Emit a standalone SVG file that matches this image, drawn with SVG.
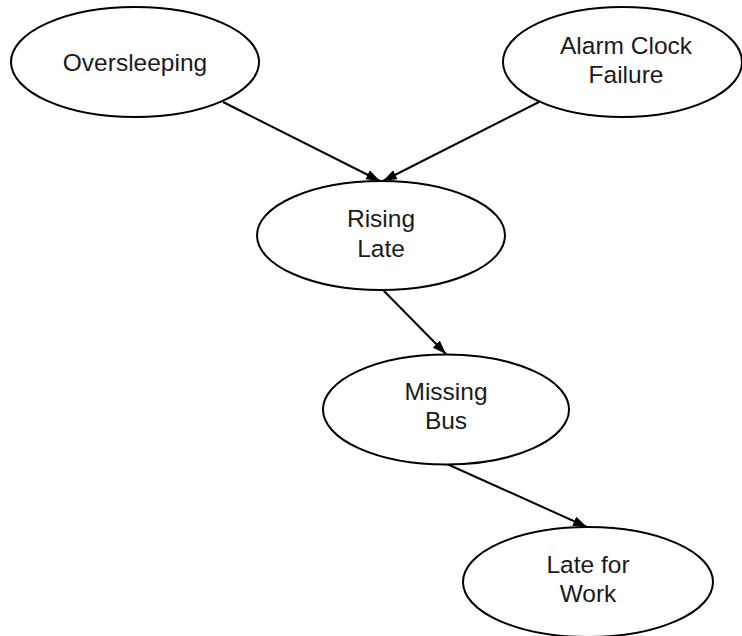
<svg xmlns="http://www.w3.org/2000/svg" width="742" height="636" viewBox="0 0 742 636">
  <style>
    .node ellipse { fill: #ffffff; stroke: #000000; stroke-width: 2; }
    .node text { font-family: "Liberation Sans", Arial, sans-serif; font-size: 24.5px; fill: #1a1a1a; text-anchor: middle; }
    .edge { stroke: #000000; stroke-width: 2; fill: none; marker-end: url(#arrow); }
  </style>
  <defs>
    <marker id="arrow" viewBox="0 0 14 10" refX="14" refY="5" markerWidth="14" markerHeight="10" markerUnits="userSpaceOnUse" orient="auto">
      <path d="M0,0 L14,5 L0,10 z" fill="#000000"/>
    </marker>
  </defs>
  <rect width="742" height="636" fill="#ffffff"/>

  <g id="connectors">
    <line class="edge" x1="223" y1="102" x2="380" y2="181"/>
    <line class="edge" x1="539" y1="102" x2="383" y2="181"/>
    <line class="edge" x1="383" y1="290" x2="446" y2="354"/>
    <line class="edge" x1="447" y1="464" x2="587" y2="527"/>
  </g>

  <g id="oversleeping" class="node">
    <ellipse cx="135" cy="62" rx="124" ry="55"/>
    <text x="135" y="71">Oversleeping</text>
  </g>

  <g id="alarm-clock-failure" class="node">
    <ellipse cx="622.5" cy="62" rx="119.5" ry="55"/>
    <text x="626" y="54">Alarm Clock</text>
    <text x="626" y="83">Failure</text>
  </g>

  <g id="rising-late" class="node">
    <ellipse cx="381" cy="235.5" rx="124" ry="54.5"/>
    <text x="381" y="227">Rising</text>
    <text x="381" y="257">Late</text>
  </g>

  <g id="missing-bus" class="node">
    <ellipse cx="446" cy="409.5" rx="123" ry="55"/>
    <text x="446" y="400">Missing</text>
    <text x="446" y="429">Bus</text>
  </g>

  <g id="late-for-work" class="node">
    <ellipse cx="588" cy="582" rx="125" ry="55"/>
    <text x="588" y="573">Late for</text>
    <text x="588" y="602">Work</text>
  </g>
</svg>
